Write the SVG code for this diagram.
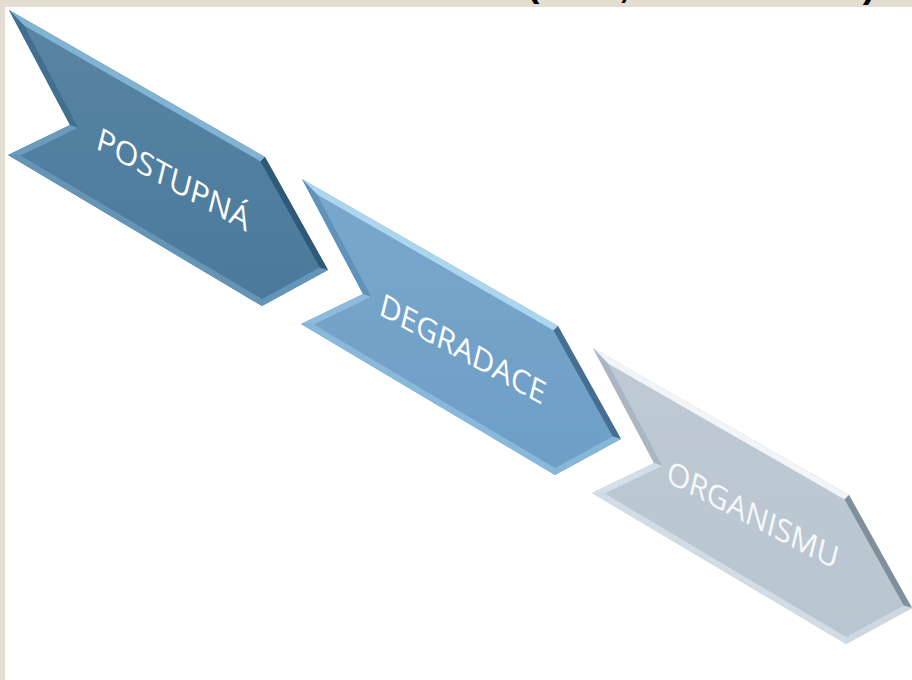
<svg xmlns="http://www.w3.org/2000/svg" xmlns:xlink="http://www.w3.org/1999/xlink" width="912" height="680" viewBox="0 0 912 680">
<style>
.lbl{font-family:"Open Sans","Noto Sans","DejaVu Sans",sans-serif;font-size:31px;fill:#ffffff}
.ttl{font-family:"Liberation Sans",Arial,sans-serif;font-size:38px;font-weight:bold;fill:#000000;text-anchor:middle}
.a1 .face{fill:#4a7a9b}.a1 .t{fill:#80b3d4}.a1 .ru{fill:#2e5a78}.a1 .rl{fill:#6396b8}.a1 .bo{fill:#6594b5}.a1 .ll{fill:#6b9bbd}.a1 .lu{fill:#41708f}
.a2 .face{fill:#6e9fc7}.a2 .t{fill:#acd6ef}.a2 .ru{fill:#446f92}.a2 .rl{fill:#86b6d8}.a2 .bo{fill:#8ab8d9}.a2 .ll{fill:#8ebbdc}.a2 .lu{fill:#6192ba}
.a3 .face{fill:#b9c5d0}.a3 .t{fill:#f2f5f8}.a3 .ru{fill:#808f9c}.a3 .rl{fill:#cdd8e1}.a3 .bo{fill:#d2dce5}.a3 .ll{fill:#d5dfe7}.a3 .lu{fill:#aab7c3}
</style>
<defs>
<polygon id="outer" points="9,10 265,157 328,270 262,306 8,155 70,125"/>
<polygon id="inner" points="24,25.6 260.6,161.4 319.8,267.6 262.1,299.1 20.7,155.5 78.2,127.7"/>
<polygon id="sTop" points="9,10 265,157 260.6,161.4 24,25.6"/>
<polygon id="sRu" points="265,157 328,270 319.8,267.6 260.6,161.4"/>
<polygon id="sRl" points="328,270 262,306 262.1,299.1 319.8,267.6"/>
<polygon id="sBo" points="262,306 8,155 20.7,155.5 262.1,299.1"/>
<polygon id="sLl" points="8,155 70,125 78.2,127.7 20.7,155.5"/>
<polygon id="sLu" points="70,125 9,10 24,25.6 78.2,127.7"/>
<linearGradient id="sheen" x1="0" y1="0" x2="0" y2="1">
<stop offset="0" stop-color="#ffffff" stop-opacity="0.08"/>
<stop offset="1" stop-color="#ffffff" stop-opacity="0"/>
</linearGradient>
</defs>
<rect x="0" y="0" width="912" height="680" fill="#ffffff"/>
<rect x="0" y="0" width="912" height="7" fill="#e3ddd2"/>
<rect x="0" y="0" width="5" height="680" fill="#e3ddd2"/>
<g id="title-fragment">
<text class="ttl" x="533" y="-4">(</text>
<text class="ttl" x="624" y="-3">,</text>
<text class="ttl" x="869" y="-3">)</text>
</g>
<g id="connectors"></g>
<g id="node-postupna" class="a1">
<use xlink:href="#outer" class="face"/>
<use xlink:href="#sTop" class="t"/>
<use xlink:href="#sRu" class="ru"/>
<use xlink:href="#sRl" class="rl"/>
<use xlink:href="#sBo" class="bo"/>
<use xlink:href="#sLl" class="ll"/>
<use xlink:href="#sLu" class="lu"/>
<use xlink:href="#inner" fill="url(#sheen)"/>
<text class="lbl" transform="matrix(0.875,0.485,-0.242,0.970,95,148)" textLength="173" lengthAdjust="spacingAndGlyphs">POSTUPNÁ</text>
</g>
<g id="node-degradace" class="a2">
<g transform="translate(293,169)">
<use xlink:href="#outer" class="face"/>
<use xlink:href="#sTop" class="t"/>
<use xlink:href="#sRu" class="ru"/>
<use xlink:href="#sRl" class="rl"/>
<use xlink:href="#sBo" class="bo"/>
<use xlink:href="#sLl" class="ll"/>
<use xlink:href="#sLu" class="lu"/>
<use xlink:href="#inner" fill="url(#sheen)"/>
</g>
<text class="lbl" transform="matrix(0.875,0.485,-0.242,0.970,378,314)" textLength="188" lengthAdjust="spacingAndGlyphs">DEGRADACE</text>
</g>
<g id="node-organismu" class="a3">
<g transform="translate(584,338)">
<use xlink:href="#outer" class="face"/>
<use xlink:href="#sTop" class="t"/>
<use xlink:href="#sRu" class="ru"/>
<use xlink:href="#sRl" class="rl"/>
<use xlink:href="#sBo" class="bo"/>
<use xlink:href="#sLl" class="ll"/>
<use xlink:href="#sLu" class="lu"/>
<use xlink:href="#inner" fill="url(#sheen)"/>
</g>
<text class="lbl" style="fill:#f6f8fa" transform="matrix(0.887,0.462,-0.242,0.970,665,481)" textLength="192" lengthAdjust="spacingAndGlyphs">ORGANISMU</text>
</g>
</svg>
